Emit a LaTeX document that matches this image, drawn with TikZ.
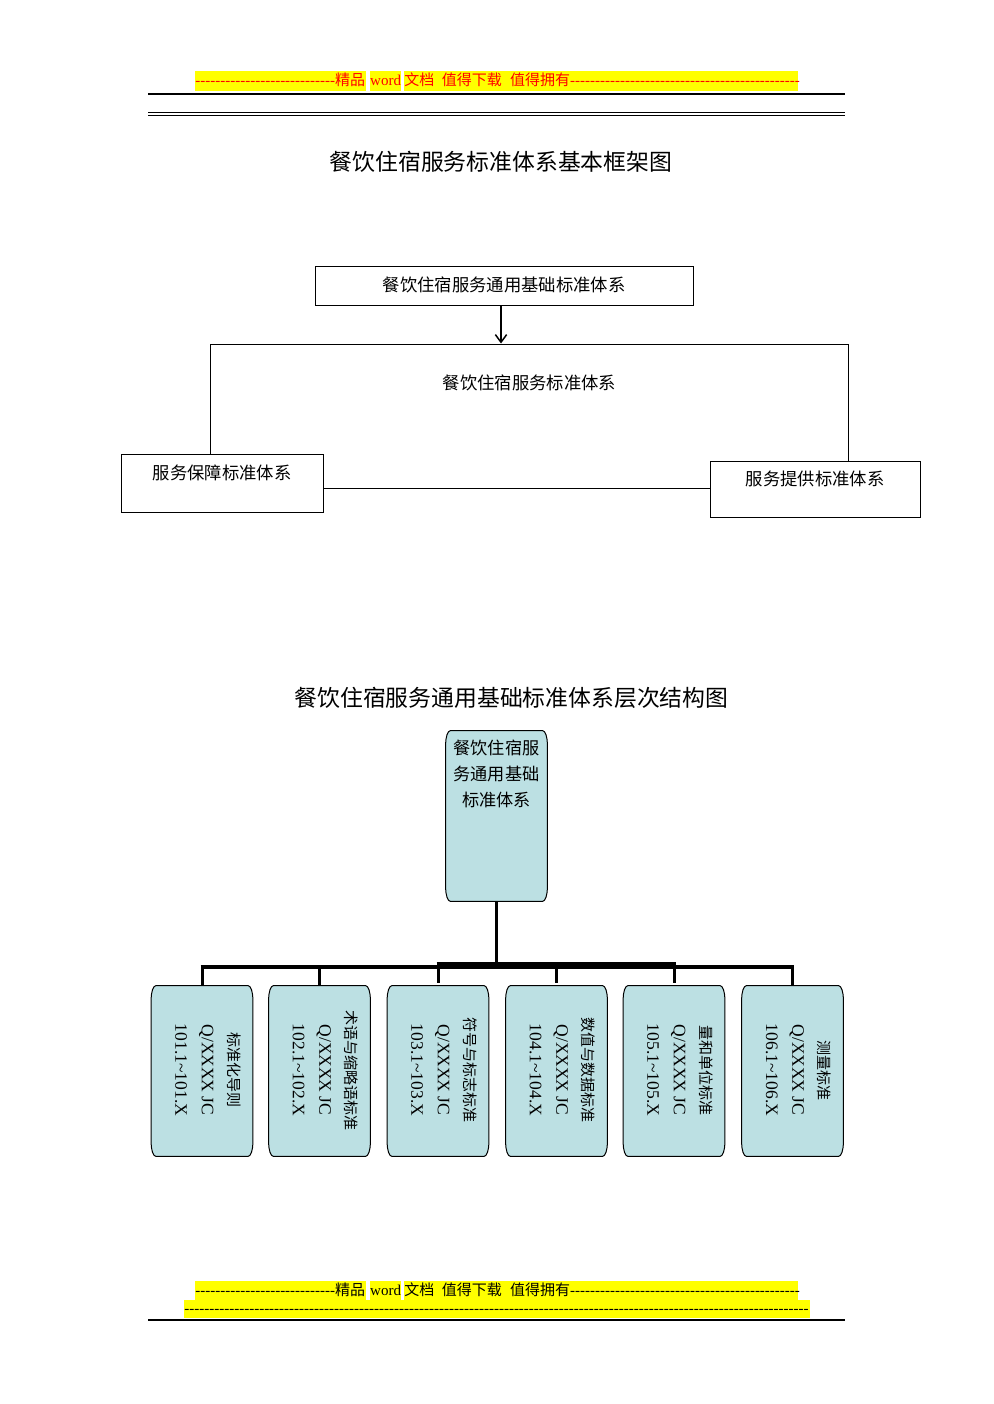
\documentclass[tikz,border=0pt]{standalone}
\usepackage{fontspec}
\setmainfont{Liberation Serif}
\newfontfamily\cjk{Noto Sans CJK SC}
\newfontfamily\tm{Liberation Serif}
\usetikzlibrary{arrows.meta,calc}
\definecolor{leafblue}{RGB}{188,224,227}
\definecolor{hlyellow}{RGB}{255,255,0}
\newcommand\dashrun[1]{{\tm\foreach \i in {1,...,#1}{-\kern0pt}}}
\newcommand\leafshape[1]{%
 \filldraw[leafline] ([xshift=2.8pt]#1.north west) -- ([xshift=-2.8pt]#1.north east)
 .. controls ([xshift=-1.2pt]#1.north east) and ([yshift=-3.6pt]#1.north east) .. ([yshift=-8.4pt]#1.north east)
 -- ([yshift=8.4pt]#1.south east)
 .. controls ([yshift=3.6pt]#1.south east) and ([xshift=-1.2pt]#1.south east) .. ([xshift=-2.8pt]#1.south east)
 -- ([xshift=2.8pt]#1.south west)
 .. controls ([xshift=1.2pt]#1.south west) and ([yshift=3.6pt]#1.south west) .. ([yshift=8.4pt]#1.south west)
 -- ([yshift=-8.4pt]#1.north west)
 .. controls ([yshift=-3.6pt]#1.north west) and ([xshift=1.2pt]#1.north west) .. cycle;}
\tikzset{
 plainbox/.style={rectangle, draw=black, line width=0.6pt, fill=white, inner sep=0pt},
 boxtext/.style={inner sep=0pt, font=\cjk\fontsize{10.4}{12}\selectfont},
 titletext/.style={inner sep=0pt, font=\cjk\fontsize{13.7}{16}\selectfont},
 hdrtext/.style={inner sep=0pt, anchor=base west, font=\fontsize{9}{10}\selectfont},
 leafbox/.style={rectangle, draw=none, minimum width=60.6pt, minimum height=102pt, inner sep=0pt},
 leafline/.style={draw=black, line width=0.6pt, fill=leafblue},
 leaftext/.style={rotate=-90, align=center, inner sep=0pt, font=\fontsize{10.5}{15.8}\selectfont},
 roottext/.style={align=center, inner sep=0pt, font=\cjk\fontsize{10.3}{15.6}\selectfont},
 stemline/.style={line width=1.8pt},
 busline/.style={line width=2.4pt},
 busthick/.style={line width=3.6pt},
 dropline/.style={line width=1.8pt},
 arr/.style={line width=0.75pt, -{Straight Barb[length=4.6pt,width=6.8pt,line width=0.9pt]}},
 rule/.style={line width=0.8pt},
 thinrule/.style={line width=0.5pt}
}
\begin{document}
\begin{tikzpicture}[x=0.6pt,y=-0.6pt]
\useasboundingbox (0,0) rectangle (993,1404);
\fill[white] (0,0) rectangle (993,1404);

% ---------- header ----------
\fill[hlyellow] (195,71) rectangle (366,91);
\fill[hlyellow] (369.5,71) rectangle (401,91);
\fill[hlyellow] (404,71) rectangle (798,91);
\node[hdrtext, text=red] (hdr) at (195,85.5) {\dashrun{28}{\cjk 精品}\hspace{3pt}{\tm word}\hspace{2pt}{\cjk 文档}\hspace{4.5pt}{\cjk 值得下载}\hspace{5pt}{\cjk 值得拥有}\dashrun{46}};
\draw[rule] (148,94) -- (845,94);
\draw[thinrule] (148,112.8) -- (845,112.8);
\draw[thinrule] (148,115.6) -- (845,115.6);

% ---------- title 1 ----------
\node[titletext] (title1) at (501,162) {餐饮住宿服务标准体系基本框架图};

% ---------- framework ----------
\node[plainbox, minimum width=226.8pt, minimum height=23.4pt] (topbox) at (504,285.5) {};
\node[boxtext] (toptxt) at (504,285) {餐饮住宿服务通用基础标准体系};
\node[plainbox, fill=none, minimum width=382.8pt, minimum height=86.4pt] (bigbox) at (529,416) {};
\node[boxtext] (bigtxt) at (529.5,383) {餐饮住宿服务标准体系};
\node[plainbox, minimum width=121.2pt, minimum height=34.8pt] (leftbox) at (222,483) {};
\node[boxtext] (lefttxt) at (222,473) {服务保障标准体系};
\node[plainbox, minimum width=126pt, minimum height=33.6pt] (rightbox) at (815,489) {};
\node[boxtext] (righttxt) at (815,479) {服务提供标准体系};
\draw[arr] ([xshift=-1.8pt]topbox.south) -- ([xshift=-1.8pt]topbox.south |- bigbox.north);

% ---------- title 2 ----------
\node[titletext] (title2) at (511.5,698) {餐饮住宿服务通用基础标准体系层次结构图};

% ---------- hierarchy ----------
\node[leafbox] (root) at (496.5,816) {};
\node[leafbox] (b1) at (202,1071) {};
\node[leafbox] (b2) at (319.5,1071) {};
\node[leafbox] (b3) at (438,1071) {};
\node[leafbox] (b4) at (556.5,1071) {};
\node[leafbox] (b5) at (674,1071) {};
\node[leafbox] (b6) at (792.5,1071) {};
\coordinate (busy) at (0,966.5);
\coordinate (thicky) at (0,965);

\draw[stemline] (root.south) -- (root.south |- thicky);
\draw[busline] ([xshift=-0.9pt]b1.north |- busy) -- ([xshift=0.9pt]b6.north |- busy);
\draw[busthick] ([xshift=-0.9pt]b3.north |- thicky) -- ([xshift=0.9pt]b5.north |- thicky);
\draw[dropline] (b1.north) -- (b1.north |- busy);
\draw[dropline] (b2.north) -- (b2.north |- busy);
\draw[dropline] ($(b3.north)+(0,-3)$) -- (b3.north |- busy);
\draw[dropline] ($(b4.north)+(0,-3)$) -- (b4.north |- busy);
\draw[dropline] ($(b5.north)+(0,-3)$) -- (b5.north |- busy);
\draw[dropline] (b6.north) -- (b6.north |- busy);

\leafshape{root}
\leafshape{b1}
\leafshape{b2}
\leafshape{b3}
\leafshape{b4}
\leafshape{b5}
\leafshape{b6}

\node[roottext] (roottxt) at (496.5,774) {餐饮住宿服\\务通用基础\\标准体系};
\node[leaftext] (t1) at (208,1070) {{\cjk\fontsize{9}{15.8}\selectfont 标准化导则}\\Q/XXXX JC\\101.1\char"7E 101.X};
\node[leaftext] (t2) at (325.5,1070) {{\cjk\fontsize{9}{15.8}\selectfont 术语与缩略语标准}\\Q/XXXX JC\\102.1\char"7E 102.X};
\node[leaftext] (t3) at (444,1070) {{\cjk\fontsize{9}{15.8}\selectfont 符号与标志标准}\\Q/XXXX JC\\103.1\char"7E 103.X};
\node[leaftext] (t4) at (562.5,1070) {{\cjk\fontsize{9}{15.8}\selectfont 数值与数据标准}\\Q/XXXX JC\\104.1\char"7E 104.X};
\node[leaftext] (t5) at (680,1070) {{\cjk\fontsize{9}{15.8}\selectfont 量和单位标准}\\Q/XXXX JC\\105.1\char"7E 105.X};
\node[leaftext] (t6) at (798.5,1070) {{\cjk\fontsize{9}{15.8}\selectfont 测量标准}\\Q/XXXX JC\\106.1\char"7E 106.X};

% ---------- footer ----------
\fill[hlyellow] (195,1281) rectangle (366,1300);
\fill[hlyellow] (369.5,1281) rectangle (401,1300);
\fill[hlyellow] (404,1281) rectangle (798,1300);
\fill[hlyellow] (184,1300) rectangle (810,1318);
\node[hdrtext] (ftr1) at (195,1295.5) {\dashrun{28}{\cjk 精品}\hspace{3pt}{\tm word}\hspace{2pt}{\cjk 文档}\hspace{4.5pt}{\cjk 值得下载}\hspace{5pt}{\cjk 值得拥有}\dashrun{46}};
\node[hdrtext] (ftr2) at (184,1313) {\dashrun{125}};
\draw[rule] (148,1320) -- (845,1320);
\end{tikzpicture}
\end{document}
